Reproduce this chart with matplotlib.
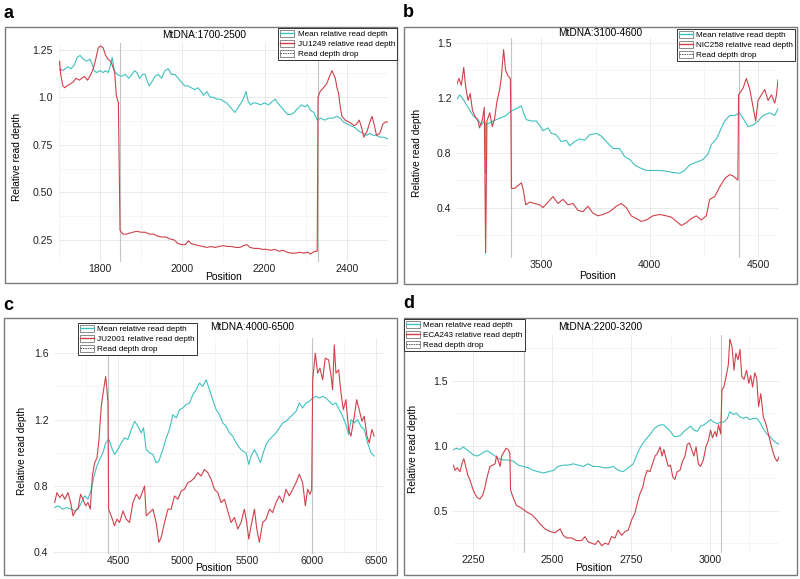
import matplotlib
matplotlib.use("Agg")
import matplotlib.pyplot as plt
from matplotlib.lines import Line2D
from matplotlib.patches import Patch, Rectangle
from matplotlib.legend_handler import HandlerTuple

plt.rcParams['font.family'] = ['Liberation Sans', 'DejaVu Sans']

CIAN = '#3fc1be'
ROJO = '#d0414b'
GRIS_DROP = '#c4c4c4'

# ── Panel a: MtDNA 1700-2500, JU1249 ─────────────────────────
a_pos_mean = [1700, 1704, 1710, 1716, 1722, 1730, 1738, 1745, 1752, 1760, 1768, 1776, 1782, 1786,
              1792, 1800, 1808, 1814, 1820, 1826, 1830, 1835, 1842, 1852, 1862, 1870, 1878, 1884,
              1890, 1896, 1904, 1910, 1916, 1920, 1926, 1934, 1942, 1950, 1958, 1966, 1974, 1982,
              1990, 1998, 2006, 2014, 2022, 2030, 2038, 2046, 2052, 2060, 2068, 2076, 2084, 2092,
              2100, 2108, 2116, 2124, 2128, 2134, 2140, 2146, 2150, 2155, 2160, 2166, 2172, 2180,
              2190, 2200, 2210, 2220, 2226, 2232, 2240, 2248, 2256, 2264, 2272, 2280, 2290, 2298,
              2304, 2312, 2320, 2328, 2336, 2346, 2356, 2366, 2376, 2384, 2392, 2400, 2410, 2420,
              2430, 2440, 2448, 2456, 2464, 2472, 2480, 2490, 2500]
a_mean = [1.14, 1.15, 1.14, 1.15, 1.16, 1.15, 1.17, 1.21, 1.22, 1.20, 1.19, 1.20, 1.17, 1.14,
          1.13, 1.14, 1.13, 1.14, 1.13, 1.17, 1.21, 1.14, 1.12, 1.11, 1.12, 1.10, 1.12, 1.14,
          1.13, 1.10, 1.12, 1.12, 1.08, 1.06, 1.08, 1.11, 1.12, 1.10, 1.14, 1.15, 1.12, 1.12,
          1.10, 1.08, 1.06, 1.06, 1.05, 1.04, 1.05, 1.03, 1.01, 1.03, 1.00, 1.00, 0.99, 0.99,
          0.98, 0.97, 0.95, 0.93, 0.92, 0.94, 0.96, 0.98, 1.00, 1.03, 0.98, 0.96, 0.97, 0.97,
          0.96, 0.97, 0.96, 0.98, 0.99, 0.97, 0.95, 0.93, 0.91, 0.91, 0.92, 0.94, 0.96, 0.95,
          0.96, 0.93, 0.92, 0.88, 0.89, 0.88, 0.89, 0.89, 0.90, 0.89, 0.87, 0.86, 0.85, 0.84,
          0.82, 0.81, 0.80, 0.81, 0.80, 0.80, 0.79, 0.79, 0.78]
a_pos_cepa = [1700, 1702, 1705, 1710, 1715, 1720, 1728, 1735, 1742, 1750, 1756, 1762, 1770, 1778,
              1784, 1790, 1796, 1802, 1808, 1814, 1820, 1826, 1830, 1836, 1840, 1845, 1849, 1856,
              1864, 1872, 1880, 1890, 1900, 1910, 1920, 1930, 1940, 1950, 1960, 1970, 1980, 1990,
              2000, 2008, 2015, 2022, 2030, 2040, 2050, 2060, 2070, 2080, 2090, 2100, 2110, 2120,
              2130, 2140, 2150, 2157, 2165, 2175, 2185, 2195, 2205, 2215, 2225, 2235, 2245, 2255,
              2265, 2275, 2285, 2295, 2305, 2312, 2318, 2324, 2328, 2330, 2335, 2343, 2351, 2356,
              2360, 2364, 2368, 2372, 2376, 2380, 2384, 2388, 2396, 2404, 2412, 2418, 2424, 2430,
              2436, 2441, 2449, 2456, 2461, 2466, 2472, 2480, 2488, 2494, 2500]
a_cepa = [1.17, 1.19, 1.12, 1.06, 1.05, 1.06, 1.07, 1.08, 1.10, 1.09, 1.10, 1.11, 1.09, 1.12,
          1.15, 1.20, 1.26, 1.27, 1.26, 1.22, 1.20, 1.19, 1.17, 1.13, 1.01, 0.97, 0.30, 0.28,
          0.28, 0.285, 0.29, 0.295, 0.29, 0.29, 0.28, 0.28, 0.27, 0.265, 0.265, 0.255, 0.25, 0.23,
          0.225, 0.225, 0.245, 0.23, 0.225, 0.22, 0.215, 0.21, 0.215, 0.21, 0.215, 0.22, 0.215, 0.215,
          0.21, 0.21, 0.22, 0.225, 0.21, 0.205, 0.205, 0.20, 0.20, 0.195, 0.20, 0.19, 0.195, 0.185,
          0.18, 0.18, 0.185, 0.18, 0.185, 0.175, 0.185, 0.19, 0.19, 1.00, 1.03, 1.05, 1.07, 1.10,
          1.12, 1.14, 1.12, 1.10, 1.05, 1.02, 0.95, 0.90, 0.88, 0.87, 0.86, 0.85, 0.86, 0.88,
          0.84, 0.79, 0.82, 0.87, 0.90, 0.86, 0.80, 0.81, 0.86, 0.87, 0.87]
a_caidas = [1850, 2330]

# ── Panel b: MtDNA 3100-4600, NIC258 ─────────────────────────
b_pos_mean = [3111, 3123, 3139, 3154, 3169, 3185, 3208, 3223, 3237, 3241, 3243, 3246, 3254, 3277,
              3308, 3338, 3357, 3385, 3408, 3418, 3431, 3454, 3477, 3492, 3508, 3531, 3546, 3569,
              3592, 3615, 3631, 3654, 3677, 3700, 3723, 3754, 3777, 3800, 3831, 3861, 3885, 3908,
              3931, 3954, 3985, 4015, 4046, 4077, 4108, 4138, 4161, 4184, 4215, 4246, 4269, 4285,
              4308, 4331, 4346, 4369, 4392, 4415, 4431, 4454, 4477, 4500, 4523, 4554, 4577, 4592]
b_mean = [1.19, 1.22, 1.19, 1.15, 1.11, 1.07, 1.04, 1.00, 1.03, 1.02, 0.65, 1.01, 1.01, 1.03,
          1.05, 1.07, 1.10, 1.12, 1.14, 1.09, 1.04, 1.03, 1.03, 1.00, 0.96, 0.98, 0.94, 0.93,
          0.88, 0.89, 0.85, 0.88, 0.90, 0.89, 0.93, 0.94, 0.92, 0.88, 0.83, 0.83, 0.77, 0.75,
          0.71, 0.69, 0.67, 0.67, 0.67, 0.665, 0.655, 0.65, 0.67, 0.71, 0.73, 0.75, 0.79, 0.86,
          0.90, 0.98, 1.03, 1.07, 1.07, 1.09, 1.05, 0.99, 1.00, 1.03, 1.07, 1.09, 1.07, 1.12]
b_pos_cepa = [3111, 3120, 3131, 3142, 3151, 3162, 3172, 3182, 3192, 3208, 3215, 3228, 3237, 3243,
              3249, 3262, 3274, 3285, 3295, 3308, 3315, 3326, 3335, 3346, 3357, 3360, 3362, 3377,
              3392, 3408, 3418, 3428, 3446, 3469, 3492, 3508, 3531, 3554, 3577, 3600, 3623, 3646,
              3669, 3692, 3715, 3738, 3761, 3785, 3815, 3846, 3869, 3892, 3915, 3938, 3961, 3985,
              4015, 4046, 4077, 4100, 4123, 4146, 4169, 4192, 4215, 4238, 4261, 4277, 4300, 4323,
              4346, 4369, 4385, 4407, 4410, 4431, 4446, 4462, 4477, 4489, 4500, 4515, 4531, 4546,
              4562, 4577, 4585, 4592]
b_cepa = [1.30, 1.34, 1.29, 1.42, 1.28, 1.18, 1.23, 1.11, 1.07, 1.03, 0.98, 1.04, 1.13, 0.07,
          1.03, 1.09, 0.99, 1.05, 1.17, 1.26, 1.34, 1.55, 1.40, 1.36, 1.34, 1.00, 0.54, 0.54,
          0.56, 0.58, 0.52, 0.42, 0.44, 0.43, 0.42, 0.40, 0.44, 0.48, 0.43, 0.46, 0.42, 0.43,
          0.38, 0.37, 0.41, 0.36, 0.34, 0.35, 0.37, 0.41, 0.43, 0.40, 0.34, 0.32, 0.30, 0.31,
          0.34, 0.35, 0.34, 0.33, 0.30, 0.27, 0.29, 0.32, 0.34, 0.31, 0.34, 0.46, 0.48, 0.55,
          0.61, 0.64, 0.63, 0.60, 1.22, 1.27, 1.34, 1.26, 1.13, 1.03, 1.18, 1.22, 1.26, 1.18,
          1.22, 1.16, 1.22, 1.33]
b_caidas = [3360, 4410]

# ── Panel c: MtDNA 4000-6500, JU2001 ─────────────────────────
c_pos_mean = [4010, 4036, 4075, 4101, 4139, 4165, 4191, 4217, 4242, 4268, 4294, 4312, 4333, 4358,
              4384, 4405, 4430, 4456, 4474, 4500, 4526, 4552, 4577, 4603, 4629, 4655, 4680, 4698,
              4719, 4745, 4771, 4796, 4817, 4848, 4874, 4899, 4925, 4951, 4977, 5003, 5028, 5054,
              5080, 5106, 5131, 5157, 5183, 5209, 5234, 5260, 5286, 5312, 5338, 5363, 5389, 5415,
              5441, 5466, 5492, 5513, 5531, 5557, 5582, 5603, 5621, 5647, 5673, 5698, 5724, 5750,
              5776, 5801, 5827, 5853, 5879, 5904, 5930, 5956, 5982, 6008, 6033, 6059, 6085, 6111,
              6136, 6162, 6188, 6214, 6239, 6265, 6286, 6304, 6330, 6355, 6381, 6407, 6433, 6459,
              6484]
c_mean = [0.67, 0.68, 0.66, 0.67, 0.66, 0.65, 0.66, 0.70, 0.74, 0.72, 0.78, 0.85, 0.91, 0.96,
          1.00, 1.06, 1.08, 1.02, 0.99, 1.02, 1.06, 1.09, 1.08, 1.14, 1.19, 1.16, 1.12, 1.15,
          1.02, 1.00, 0.99, 0.94, 0.95, 1.02, 1.09, 1.14, 1.23, 1.21, 1.26, 1.27, 1.29, 1.30,
          1.35, 1.38, 1.42, 1.40, 1.44, 1.38, 1.32, 1.26, 1.23, 1.18, 1.16, 1.12, 1.10, 1.06,
          1.03, 1.01, 1.00, 0.93, 0.98, 1.02, 0.98, 0.94, 0.99, 1.05, 1.08, 1.10, 1.12, 1.15,
          1.18, 1.19, 1.21, 1.23, 1.25, 1.30, 1.27, 1.30, 1.31, 1.33, 1.34, 1.33, 1.34, 1.33,
          1.31, 1.29, 1.30, 1.26, 1.22, 1.17, 1.11, 1.20, 1.18, 1.20, 1.16, 1.14, 1.06, 1.00,
          0.98]
c_pos_cepa = [4010, 4028, 4049, 4070, 4088, 4113, 4134, 4152, 4173, 4193, 4211, 4229, 4250, 4268,
              4286, 4302, 4320, 4338, 4353, 4371, 4389, 4405, 4415, 4423, 4428, 4448, 4474, 4492,
              4513, 4539, 4564, 4590, 4616, 4642, 4668, 4688, 4706, 4719, 4745, 4771, 4796, 4817,
              4835, 4861, 4887, 4912, 4938, 4964, 4990, 5015, 5041, 5067, 5093, 5118, 5144, 5170,
              5196, 5222, 5247, 5273, 5299, 5325, 5350, 5376, 5402, 5428, 5453, 5479, 5497, 5513,
              5531, 5557, 5575, 5595, 5621, 5647, 5673, 5698, 5724, 5750, 5776, 5801, 5827, 5853,
              5879, 5904, 5930, 5951, 5969, 5987, 6000, 6008, 6028, 6046, 6064, 6085, 6105, 6131,
              6149, 6162, 6175, 6188, 6209, 6227, 6245, 6265, 6286, 6304, 6330, 6348, 6368, 6389,
              6407, 6428, 6446, 6466, 6484]
c_cepa = [0.70, 0.76, 0.73, 0.75, 0.72, 0.76, 0.70, 0.62, 0.65, 0.67, 0.75, 0.72, 0.68, 0.70,
          0.66, 0.86, 0.94, 0.97, 1.08, 1.28, 1.38, 1.46, 1.38, 1.30, 0.66, 0.62, 0.56, 0.60,
          0.58, 0.65, 0.60, 0.58, 0.70, 0.75, 0.72, 0.76, 0.80, 0.62, 0.64, 0.66, 0.58, 0.46,
          0.49, 0.58, 0.66, 0.66, 0.74, 0.72, 0.77, 0.78, 0.82, 0.83, 0.85, 0.88, 0.86, 0.90,
          0.88, 0.84, 0.78, 0.76, 0.70, 0.72, 0.65, 0.58, 0.61, 0.54, 0.58, 0.66, 0.58, 0.48,
          0.56, 0.66, 0.54, 0.46, 0.58, 0.60, 0.66, 0.64, 0.70, 0.74, 0.70, 0.78, 0.74, 0.78,
          0.82, 0.87, 0.82, 0.68, 0.78, 0.75, 0.78, 1.44, 1.60, 1.48, 1.51, 1.44, 1.57, 1.56,
          1.47, 1.38, 1.65, 1.48, 1.50, 1.36, 1.26, 1.32, 1.14, 1.10, 1.22, 1.32, 1.26, 1.19,
          1.22, 1.10, 1.06, 1.14, 1.10]
c_caidas = [4423, 6000]

# ── Panel d: MtDNA 2200-3200, ECA243 ─────────────────────────
d_pos_mean = [2187, 2197, 2208, 2218, 2229, 2239, 2250, 2261, 2271, 2282, 2294, 2308, 2319, 2329,
              2345, 2361, 2377, 2393, 2408, 2424, 2440, 2456, 2472, 2488, 2504, 2519, 2535, 2551,
              2567, 2583, 2599, 2614, 2630, 2646, 2662, 2678, 2694, 2709, 2725, 2741, 2757, 2770,
              2780, 2791, 2801, 2812, 2823, 2833, 2844, 2854, 2865, 2875, 2886, 2896, 2907, 2918,
              2928, 2939, 2949, 2960, 2970, 2981, 2992, 3002, 3013, 3023, 3034, 3044, 3055, 3063,
              3074, 3084, 3095, 3106, 3116, 3127, 3137, 3148, 3158, 3169, 3180, 3190, 3201, 3211,
              3220]
d_mean = [0.97, 0.98, 0.97, 0.99, 0.97, 0.95, 0.93, 0.92, 0.93, 0.95, 0.96, 0.94, 0.92, 0.90,
          0.89, 0.89, 0.88, 0.85, 0.84, 0.83, 0.81, 0.80, 0.79, 0.80, 0.81, 0.84, 0.85, 0.85,
          0.86, 0.85, 0.84, 0.86, 0.84, 0.84, 0.83, 0.83, 0.84, 0.81, 0.80, 0.83, 0.86, 0.94,
          0.99, 1.03, 1.06, 1.09, 1.13, 1.15, 1.16, 1.16, 1.13, 1.11, 1.07, 1.07, 1.08, 1.11,
          1.13, 1.15, 1.12, 1.11, 1.15, 1.16, 1.18, 1.20, 1.18, 1.17, 1.18, 1.18, 1.21, 1.26,
          1.24, 1.25, 1.22, 1.21, 1.22, 1.20, 1.21, 1.21, 1.18, 1.13, 1.09, 1.07, 1.04, 1.02,
          1.01]
d_pos_cepa = [2187, 2192, 2199, 2208, 2214, 2220, 2227, 2233, 2239, 2248, 2255, 2263, 2271, 2280,
              2287, 2294, 2303, 2311, 2319, 2324, 2330, 2335, 2340, 2347, 2354, 2361, 2366, 2368,
              2375, 2387, 2403, 2419, 2435, 2451, 2461, 2477, 2493, 2509, 2525, 2535, 2546, 2562,
              2577, 2593, 2604, 2614, 2625, 2636, 2646, 2657, 2667, 2678, 2688, 2699, 2709, 2720,
              2731, 2741, 2752, 2762, 2770, 2778, 2787, 2794, 2801, 2810, 2818, 2826, 2833, 2842,
              2848, 2854, 2861, 2868, 2875, 2882, 2889, 2896, 2905, 2913, 2921, 2928, 2935, 2942,
              2949, 2956, 2963, 2970, 2979, 2987, 2995, 3002, 3008, 3016, 3021, 3027, 3034, 3038,
              3044, 3051, 3058, 3063, 3070, 3076, 3082, 3089, 3095, 3101, 3108, 3116, 3123, 3129,
              3135, 3142, 3148, 3154, 3161, 3169, 3177, 3185, 3192, 3201, 3207, 3213, 3220]
d_cepa = [0.85, 0.81, 0.83, 0.80, 0.86, 0.90, 0.83, 0.77, 0.74, 0.67, 0.63, 0.60, 0.59, 0.62,
          0.68, 0.76, 0.84, 0.85, 0.86, 0.92, 0.88, 0.84, 0.92, 0.95, 0.98, 0.97, 0.94, 0.66,
          0.61, 0.54, 0.52, 0.49, 0.47, 0.43, 0.40, 0.36, 0.34, 0.33, 0.36, 0.31, 0.29, 0.29,
          0.27, 0.27, 0.30, 0.26, 0.25, 0.24, 0.27, 0.23, 0.25, 0.24, 0.30, 0.29, 0.35, 0.31,
          0.34, 0.35, 0.43, 0.48, 0.56, 0.63, 0.68, 0.76, 0.81, 0.80, 0.86, 0.92, 0.94, 0.99,
          0.92, 0.97, 0.90, 0.84, 0.85, 0.76, 0.74, 0.80, 0.81, 0.88, 0.92, 1.01, 1.02, 0.97,
          0.92, 0.99, 0.86, 0.84, 0.89, 0.99, 1.04, 1.12, 1.06, 1.11, 1.07, 1.16, 1.09, 1.43,
          1.45, 1.53, 1.62, 1.82, 1.76, 1.58, 1.71, 1.66, 1.74, 1.53, 1.51, 1.58, 1.48, 1.54,
          1.45, 1.56, 1.52, 1.30, 1.40, 1.22, 1.17, 1.09, 1.02, 0.94, 0.90, 0.88, 0.92]
d_caidas = [2411, 3035]

W, H = 800, 579
fig = plt.figure(figsize=(W / 100, H / 100), dpi=100)


def px_x(x):
    return x / W


def px_y(y):
    return 1 - y / H


def panel(letra, marco, caja, xlim, ylim, xticks, xlabels, xminor, yticks, ylabels, yminor,
          titulo, pos_titulo, pos_ylabel, pos_xlabel, leyenda, muestra,
          pos_mean, mean, pos_cepa, cepa, caidas):
    # marco exterior del panel
    x0, y0, x1, y1 = marco
    fig.patches.append(Rectangle((px_x(x0), px_y(y1)), (x1 - x0) / W, (y1 - y0) / H,
                                 transform=fig.transFigure, fill=False,
                                 ec='#7a7a7a', lw=1.0, zorder=0))
    fig.text(px_x(letra[1]), px_y(letra[2]), letra[0], fontsize=13, fontweight='bold',
             ha='left', va='baseline')

    l, t, r, b = caja
    ax = fig.add_axes([px_x(l), px_y(b), (r - l) / W, (b - t) / H])
    ax.set_xlim(*xlim)
    ax.set_ylim(*ylim)
    for s in ax.spines.values():
        s.set_visible(False)
    ax.set_xticks(xticks)
    ax.set_xticklabels(xlabels)
    ax.set_xticks(xminor, minor=True)
    ax.set_yticks(yticks)
    ax.set_yticklabels(ylabels)
    ax.set_yticks(yminor, minor=True)
    ax.tick_params(which='both', length=0, labelsize=7.6, labelcolor='#222222')
    ax.tick_params(axis='x', pad=1.5)
    ax.tick_params(axis='y', pad=4)
    ax.grid(True, which='major', color='#e6e6e6', lw=0.6)
    ax.grid(True, which='minor', color='#f2f2f2', lw=0.5)
    ax.set_axisbelow(True)

    for c in caidas:
        ax.axvline(c, color=GRIS_DROP, lw=0.8, zorder=1)
    ax.plot(pos_mean, mean, color=CIAN, lw=0.8, zorder=2)
    ax.plot(pos_cepa, cepa, color=ROJO, lw=0.8, zorder=3)

    fig.text(px_x(pos_titulo[0]), px_y(pos_titulo[1]), titulo, fontsize=7.3,
             ha='center', va='center')
    fig.text(px_x(pos_ylabel[0]), px_y((t + b) / 2 + 5), 'Relative read depth', fontsize=7.3,
             rotation=90, ha='center', va='center')
    fig.text(px_x(pos_xlabel[0]), px_y(pos_xlabel[1]), 'Position', fontsize=7.5,
             ha='center', va='center')

    caja_key = dict(fc='white', ec='#777777', lw=0.6)
    handles = [(Patch(**caja_key), Line2D([], [], color=CIAN, lw=1.0)),
               (Patch(**caja_key), Line2D([], [], color=ROJO, lw=1.0)),
               (Patch(**caja_key), Line2D([], [], color='#555555', lw=0.7, ls=(0, (1.5, 1))))]
    etiquetas = ['Mean relative read depth', f'{muestra} relative read depth', 'Read depth drop']
    loc, lx, ly = leyenda
    leg = fig.legend(handles, etiquetas, loc=loc, bbox_to_anchor=(px_x(lx), px_y(ly)),
                     bbox_transform=fig.transFigure, fontsize=5.9,
                     handler_map={tuple: HandlerTuple(ndivide=1)},
                     handlelength=1.7, handleheight=0.9, handletextpad=0.4,
                     labelspacing=0.22, borderpad=0.25, borderaxespad=0,
                     fancybox=False, framealpha=1, edgecolor='#333333')
    leg.get_frame().set_linewidth(0.7)
    return ax


panel(('a', 3, 18), (5, 27, 397, 283), (58.7, 42.7, 388, 261.7),
      (1700, 2500), (0.135, 1.287),
      [1800, 2000, 2200, 2400], ['1800', '2000', '2200', '2400'], [1700, 1900, 2100, 2300, 2500],
      [0.25, 0.5, 0.75, 1.0, 1.25], ['0.25', '0.50', '0.75', '1.0', '1.25'],
      [0.375, 0.625, 0.875, 1.125],
      'MtDNA:1700-2500', (204, 35), (17,), (223, 277),
      ('upper right', 397, 28), 'JU1249',
      a_pos_mean, a_mean, a_pos_cepa, a_cepa, a_caidas)

panel(('b', 403, 17), (404, 27, 797, 284), (457, 38.3, 778, 258.3),
      (3111, 4592), (0.031, 1.632),
      [3500, 4000, 4500], ['3500', '4000', '4500'], [3250, 3750, 4250],
      [0.4, 0.8, 1.2, 1.6], ['0.4', '0.8', '1.2', '1.5'], [0.2, 0.6, 1.0, 1.4],
      'MtDNA:3100-4600', (600, 33), (417,), (597, 276),
      ('upper right', 795, 29), 'NIC258',
      b_pos_mean, b_mean, b_pos_cepa, b_cepa, b_caidas)

panel(('c', 3, 310), (4, 318, 397, 575), (54, 338.3, 384, 554),
      (4005, 6560), (0.39, 1.69),
      [4500, 5000, 5500, 6000, 6500], ['4500', '5000', '5500', '6000', '6500'],
      [4250, 4750, 5250, 5750, 6250],
      [0.4, 0.8, 1.2, 1.6], ['0.4', '0.8', '1.2', '1.6'], [0.6, 1.0, 1.4],
      'MtDNA:4000-6500', (252, 327), (22,), (213, 568),
      ('upper left', 78, 323), 'JU2001',
      c_pos_mean, c_mean, c_pos_cepa, c_cepa, c_caidas)

panel(('d', 403, 308), (404, 318, 797, 575), (453.4, 335, 779.4, 553.3),
      (2187, 3220), (0.172, 1.851),
      [2250, 2500, 2750, 3000], ['2250', '2500', '2750', '3000'], [2375, 2625, 2875, 3125],
      [0.5, 1.0, 1.5], ['0.5', '1.0', '1.5'], [0.25, 0.75, 1.25, 1.75],
      'MtDNA:2200-3200', (600, 327), (413,), (593, 568),
      ('upper left', 404, 319), 'ECA243',
      d_pos_mean, d_mean, d_pos_cepa, d_cepa, d_caidas)

fig.savefig('out.png', dpi=100)
